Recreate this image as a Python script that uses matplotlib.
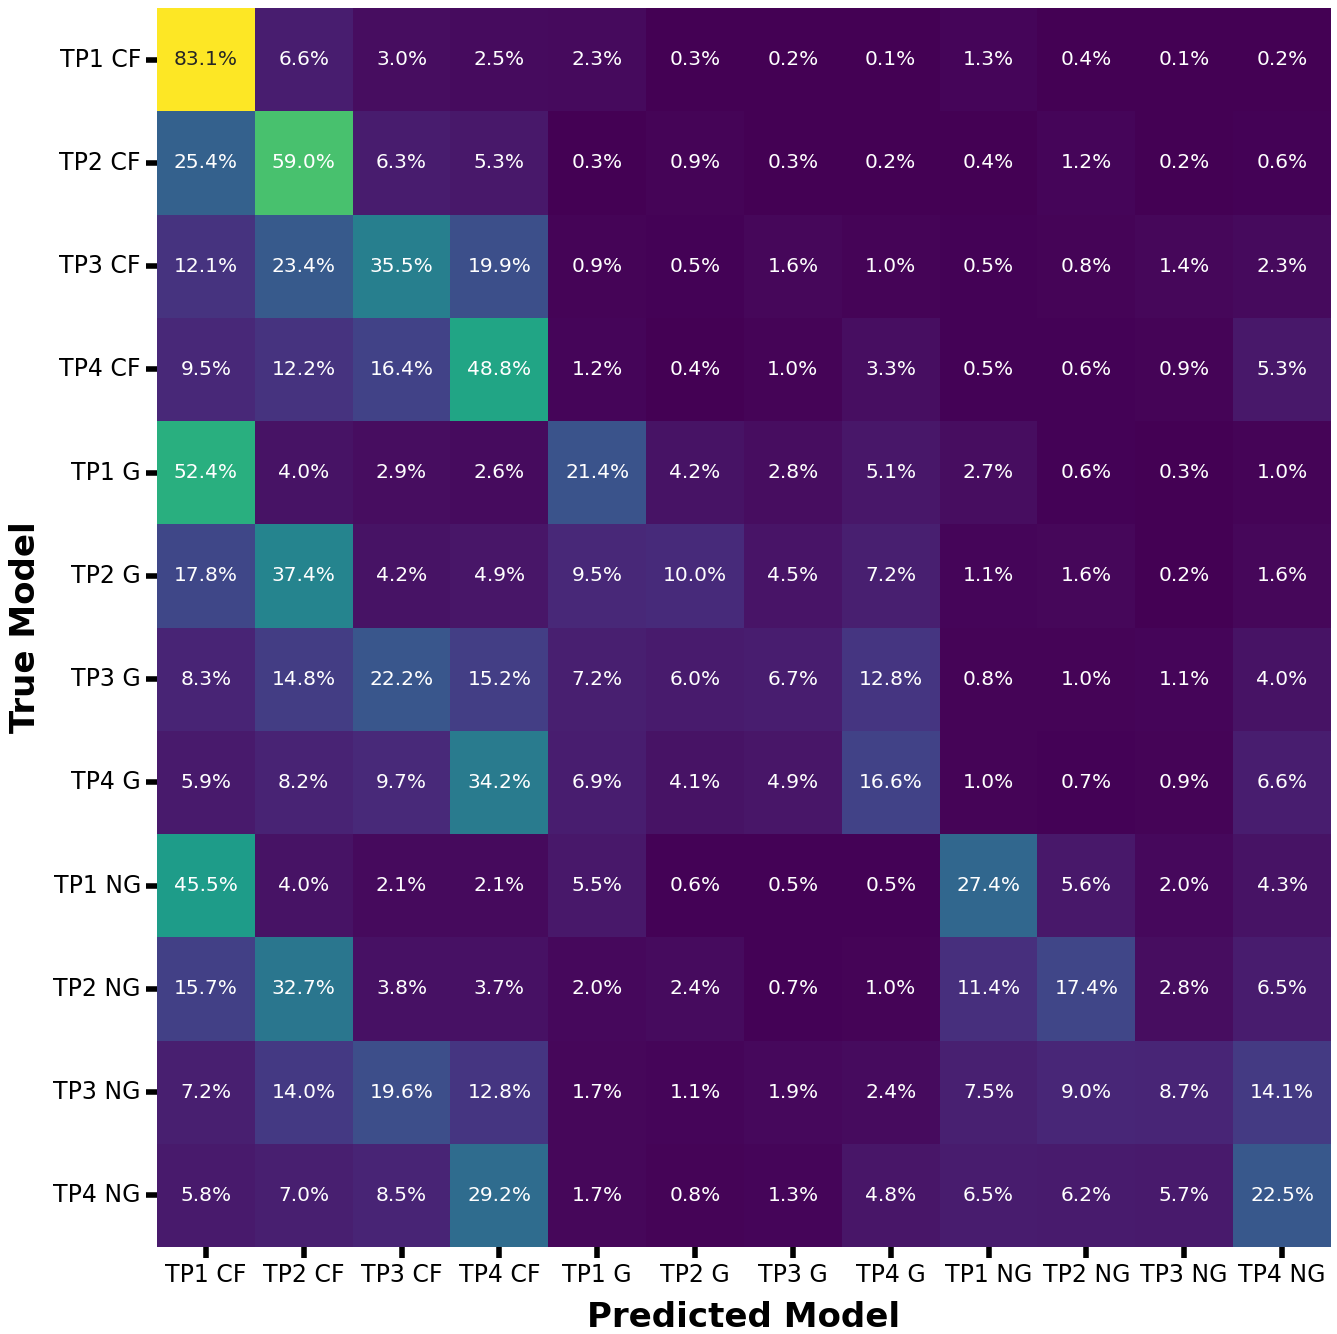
import numpy as np
import matplotlib
matplotlib.use("Agg")
import matplotlib.pyplot as plt
import seaborn as sns

labels = ["TP1 CF", "TP2 CF", "TP3 CF", "TP4 CF",
          "TP1 G", "TP2 G", "TP3 G", "TP4 G",
          "TP1 NG", "TP2 NG", "TP3 NG", "TP4 NG"]

# percentages, rows = true model, columns = predicted model
tp1_cf = [83.1, 6.6, 3.0, 2.5, 2.3, 0.3, 0.2, 0.1, 1.3, 0.4, 0.1, 0.2]
tp2_cf = [25.4, 59.0, 6.3, 5.3, 0.3, 0.9, 0.3, 0.2, 0.4, 1.2, 0.2, 0.6]
tp3_cf = [12.1, 23.4, 35.5, 19.9, 0.9, 0.5, 1.6, 1.0, 0.5, 0.8, 1.4, 2.3]
tp4_cf = [9.5, 12.2, 16.4, 48.8, 1.2, 0.4, 1.0, 3.3, 0.5, 0.6, 0.9, 5.3]
tp1_g = [52.4, 4.0, 2.9, 2.6, 21.4, 4.2, 2.8, 5.1, 2.7, 0.6, 0.3, 1.0]
tp2_g = [17.8, 37.4, 4.2, 4.9, 9.5, 10.0, 4.5, 7.2, 1.1, 1.6, 0.2, 1.6]
tp3_g = [8.3, 14.8, 22.2, 15.2, 7.2, 6.0, 6.7, 12.8, 0.8, 1.0, 1.1, 4.0]
tp4_g = [5.9, 8.2, 9.7, 34.2, 6.9, 4.1, 4.9, 16.6, 1.0, 0.7, 0.9, 6.6]
tp1_ng = [45.5, 4.0, 2.1, 2.1, 5.5, 0.6, 0.5, 0.5, 27.4, 5.6, 2.0, 4.3]
tp2_ng = [15.7, 32.7, 3.8, 3.7, 2.0, 2.4, 0.7, 1.0, 11.4, 17.4, 2.8, 6.5]
tp3_ng = [7.2, 14.0, 19.6, 12.8, 1.7, 1.1, 1.9, 2.4, 7.5, 9.0, 8.7, 14.1]
tp4_ng = [5.8, 7.0, 8.5, 29.2, 1.7, 0.8, 1.3, 4.8, 6.5, 6.2, 5.7, 22.5]

cm = np.array([tp1_cf, tp2_cf, tp3_cf, tp4_cf, tp1_g, tp2_g, tp3_g, tp4_g,
               tp1_ng, tp2_ng, tp3_ng, tp4_ng])
annot = np.array([[f"{v:.1f}%" for v in row] for row in cm])

fig = plt.figure(figsize=(13.37, 13.34), dpi=100)
ax = fig.add_axes([0.1174, 0.0652, 0.8781, 0.9288])

sns.heatmap(cm, annot=annot, fmt="", cmap="viridis", cbar=False,
            xticklabels=labels, yticklabels=labels, ax=ax,
            annot_kws={"fontsize": 14.5})

ax.set_aspect("auto")
ax.tick_params(axis="both", length=8, width=4, labelsize=17, color="black")
plt.setp(ax.get_yticklabels(), rotation=0)
plt.setp(ax.get_xticklabels(), rotation=0)
ax.set_xlabel("Predicted Model", fontsize=24.5, fontweight="bold", labelpad=10)
ax.set_ylabel("True Model", fontsize=24.5, fontweight="bold", labelpad=8)

fig.savefig("out.png", dpi=100)
